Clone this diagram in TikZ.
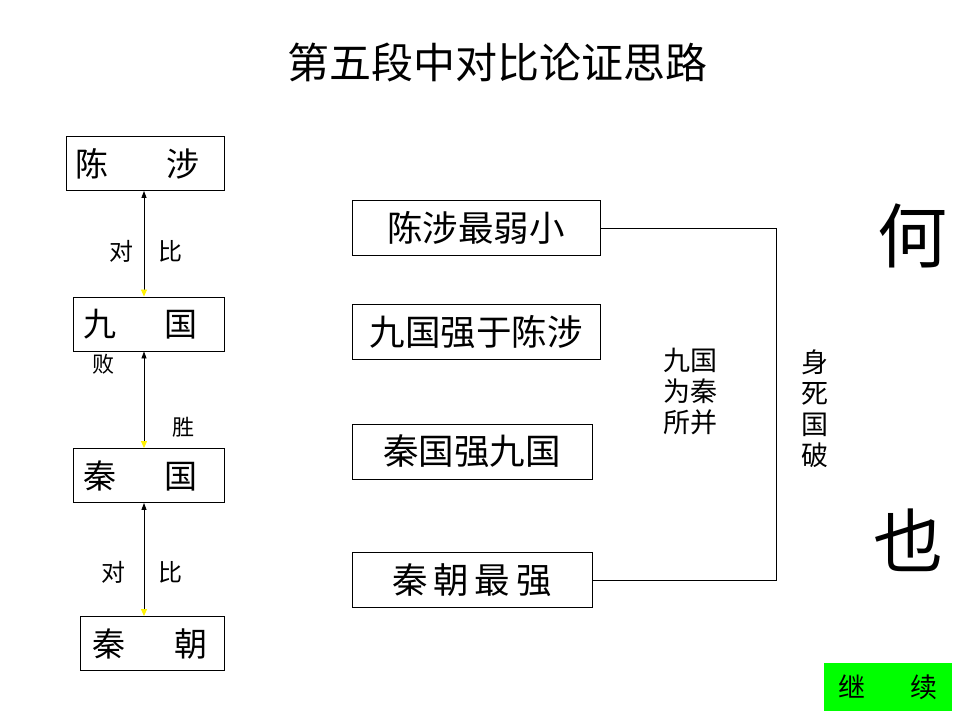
\documentclass[tikz,border=0pt]{standalone}
\usepackage{fontspec}
\newfontfamily\cjk{Noto Sans CJK SC}
\usetikzlibrary{arrows.meta}
\definecolor{btngreen}{RGB}{0,255,0}
\tikzset{
  every node/.style={font=\cjk},
  lbox/.style={draw, line width=0.9pt, minimum height=54pt, inner sep=0pt, font=\cjk\fontsize{33}{33}\selectfont},
  rbox/.style={draw, line width=0.9pt, minimum height=55pt, inner sep=0pt, font=\cjk\fontsize{35.5}{35.5}\selectfont},
  lbl/.style={font=\cjk\fontsize{24}{24}\selectfont, inner sep=0pt},
  side/.style={font=\cjk\fontsize{27}{31}\selectfont, inner sep=0pt, align=center},
  big/.style={font=\cjk\fontsize{70}{70}\selectfont, inner sep=0pt},
  biarrow/.style={line width=0.8pt, {Triangle[color=yellow,length=7pt,width=6pt]}-{Triangle[length=7pt,width=5pt]}},
  bracket/.style={line width=0.9pt}
}
\begin{document}
\begin{tikzpicture}[x=1pt,y=-1pt]
\useasboundingbox (0,0) rectangle (960,720);
% title
\node[font=\cjk\fontsize{42}{42}\selectfont] (title) at (497,62) {第五段中对比论证思路};
% left column
\node[lbox, minimum width=158pt] (chenshe) at (145,163.5) {\makebox[125pt]{陈\hfill 涉}\rule{15pt}{0pt}};
\node[lbox, minimum width=151pt] (jiuguo) at (148.5,324) {\makebox[114pt]{九\hfill 国}\rule{16pt}{0pt}};
\node[lbox, minimum width=151pt] (qinguo) at (148.5,475.5) {\makebox[115pt]{秦\hfill 国}\rule{16pt}{0pt}};
\node[lbox, minimum width=144pt] (qinchao) at (152,643.5) {\makebox[116pt]{秦\hfill 朝}\rule{4pt}{0pt}};
\coordinate (ax) at (144,0);
\draw[biarrow] (jiuguo.north -| ax) -- (chenshe.south -| ax);
\draw[biarrow] (qinguo.north -| ax) -- (jiuguo.south -| ax);
\draw[biarrow] (qinchao.north -| ax) -- (qinguo.south -| ax);
\node[lbl] (dui1) at (121,251) {对};
\node[lbl] (bi1) at (170,251) {比};
\node[lbl, font=\cjk\fontsize{22}{22}\selectfont] (bai) at (103,364) {败};
\node[lbl, font=\cjk\fontsize{22}{22}\selectfont] (sheng) at (183,427) {胜};
\node[lbl] (dui2) at (113,572) {对};
\node[lbl] (bi2) at (170,572) {比};
% right column
\node[rbox, minimum width=248pt] (r1) at (476,228) {陈涉最弱小};
\node[rbox, minimum width=248pt] (r2) at (476,332) {九国强于陈涉};
\node[rbox, minimum width=240pt] (r3) at (472,451.5) {秦国强九国};
\node[rbox, minimum width=240pt] (r4) at (472,580) {秦\,朝\,最\,强};
\coordinate (bx) at (776,400);
\draw[bracket] (r1.east) -| (bx) |- (r4.east);
\node[side] (merge) at (690,391) {九国\\为秦\\所并};
\node[side] (death) at (815,409) {身\\死\\国\\破};
\node[big] (he) at (912,236) {何};
\node[big] (ye) at (908,540) {也};
% continue button
\node[fill=btngreen, minimum width=128pt, minimum height=48pt, inner sep=0pt, font=\cjk\fontsize{27}{27}\selectfont] (cont) at (888,687) {\makebox[100pt]{继\hfill 续}};
\end{tikzpicture}
\end{document}
